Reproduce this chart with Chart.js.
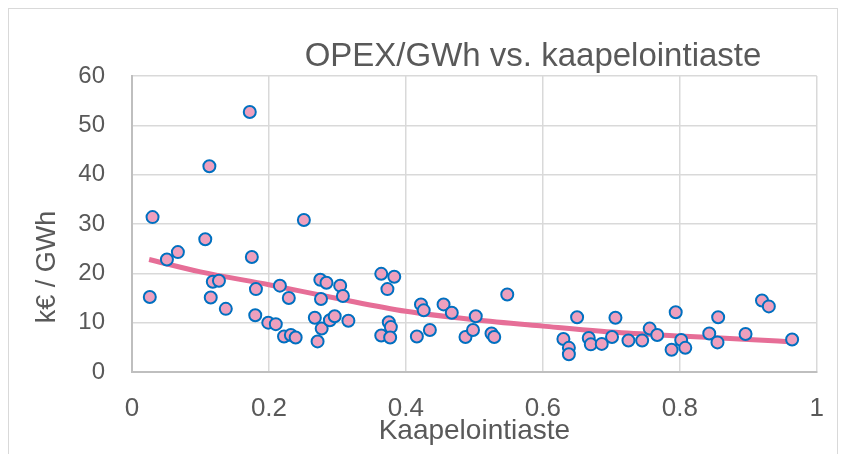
<!DOCTYPE html>
<html>
<head>
<meta charset="utf-8">
<script src="https://cdn.jsdelivr.net/npm/chart.js@4.4.0/dist/chart.umd.min.js"></script>
<style>
  html, body { margin: 0; padding: 0; background: #fff; }
</style>
</head>
<body>
<canvas id="myChart" width="845" height="454"></canvas>
<script>
// Data
const kaapelointiaste = [
  0.030, 0.026, 0.051, 0.067, 0.113, 0.107, 0.172, 0.118, 0.127, 0.115,
  0.137, 0.175, 0.181, 0.180, 0.199, 0.210, 0.216, 0.229, 0.222, 0.232,
  0.239, 0.251, 0.267, 0.271, 0.277, 0.275, 0.284, 0.276, 0.289, 0.296,
  0.304, 0.308, 0.316, 0.364, 0.383, 0.373, 0.375, 0.378, 0.364, 0.377,
  0.416, 0.422, 0.426, 0.435, 0.455, 0.467, 0.487, 0.498, 0.502, 0.525,
  0.529, 0.548, 0.630, 0.638, 0.638, 0.650, 0.667, 0.670, 0.686, 0.701,
  0.706, 0.725, 0.745, 0.756, 0.767, 0.794, 0.788, 0.802, 0.808, 0.843,
  0.856, 0.855, 0.896, 0.920, 0.930, 0.964
];
const opexPerGwh = [
  31.4, 15.2, 22.8, 24.3, 41.7, 26.9, 52.7, 18.3, 18.5, 15.1,
  12.8, 23.3, 16.8, 11.5, 10.0, 9.7, 17.5, 15.0, 7.2, 7.5,
  7.0, 30.8, 11.0, 6.2, 8.8, 18.7, 18.1, 14.8, 10.5, 11.3,
  17.5, 15.4, 10.4, 19.9, 19.3, 16.8, 10.1, 9.1, 7.4, 7.0,
  7.2, 13.7, 12.5, 8.5, 13.7, 12.0, 7.1, 8.5, 11.3, 7.8,
  7.1, 15.7, 6.7, 4.9, 3.6, 11.1, 6.9, 5.6, 5.7, 7.1,
  11.0, 6.4, 6.4, 8.8, 7.5, 12.1, 4.5, 6.5, 4.9, 7.8,
  11.1, 6.0, 7.7, 14.5, 13.3, 6.6
];

// Trend line
const trendX = [0.025, 0.1, 0.2, 0.3, 0.4, 0.5, 0.6, 0.7, 0.8, 0.9, 0.965];
const trendY = [22.8, 20.3, 17.7, 14.9, 12.3, 10.6, 9.3, 8.1, 7.3, 6.6, 6.1];

const xTicks = [0, 0.2, 0.4, 0.6, 0.8, 1];
const yTicks = [0, 10, 20, 30, 40, 50, 60];

const FONT = "'Liberation Sans', Arial, sans-serif";
const TEXT = '#595959';

// Frame, chart title and y axis title
const decorations = {
  id: 'decorations',
  beforeDraw(chart) {
    const ctx = chart.ctx;
    ctx.save();
    ctx.fillStyle = '#fff';
    ctx.fillRect(0, 0, chart.width, chart.height);
    ctx.strokeStyle = '#d9d9d9';
    ctx.lineWidth = 1;
    ctx.strokeRect(8.5, 8.5, 829, 500);
    ctx.restore();
  },
  afterDraw(chart) {
    const ctx = chart.ctx;
    ctx.save();
    ctx.fillStyle = TEXT;
    ctx.font = '33px ' + FONT;
    ctx.textAlign = 'center';
    ctx.textBaseline = 'alphabetic';
    ctx.fillText('OPEX/GWh vs. kaapelointiaste', 533, 66);

    ctx.font = '27px ' + FONT;
    ctx.translate(55, 267);
    ctx.rotate(-Math.PI / 2);
    ctx.fillText('k€ / GWh', 0, 0);
    ctx.restore();
  }
};

const points = kaapelointiaste.map((x, i) => ({ x: x, y: opexPerGwh[i] }));
const trend = trendX.map((x, i) => ({ x: x, y: trendY[i] }));

const ctx = document.getElementById('myChart').getContext('2d');
const myChart = new Chart(ctx, {
  type: 'scatter',
  data: {
    datasets: [{
      label: 'OPEX/GWh',
      data: points,
      backgroundColor: '#EEA0BE',
      borderColor: '#0070C0',
      borderWidth: 2,
      pointRadius: 6,
      order: 0
    }, {
      type: 'line',
      label: 'Trend',
      data: trend,
      borderColor: '#E66E97',
      borderWidth: 5,
      pointRadius: 0,
      fill: false,
      cubicInterpolationMode: 'monotone',
      borderCapStyle: 'butt',
      order: 1
    }]
  },
  plugins: [decorations],
  options: {
    responsive: false,
    animation: false,
    layout: { padding: { left: 0, right: 25, top: 76, bottom: 6 } },
    plugins: {
      legend: { display: false },
      tooltip: { enabled: false }
    },
    scales: {
      x: {
        type: 'linear',
        min: 0,
        max: 1,
        afterBuildTicks: axis => { axis.ticks = xTicks.map(v => ({ value: v })); },
        afterFit: axis => { axis.height = 76; },
        grid: { color: '#d9d9d9', lineWidth: 1.5, drawTicks: false },
        border: { color: '#bfbfbf', width: 2 },
        ticks: {
          color: TEXT,
          font: { family: FONT, size: 26 },
          padding: 21,
          maxRotation: 0,
          callback: v => String(v)
        },
        title: {
          display: true,
          text: 'Kaapelointiaste',
          color: TEXT,
          font: { family: FONT, size: 28 },
          padding: 0
        }
      },
      y: {
        min: 0,
        max: 60,
        afterBuildTicks: axis => { axis.ticks = yTicks.map(v => ({ value: v })); },
        afterFit: axis => { axis.width = 132; },
        grid: { color: '#d9d9d9', lineWidth: 1.5, drawTicks: false },
        border: { color: '#bfbfbf', width: 2 },
        ticks: {
          color: TEXT,
          font: { family: FONT, size: 24 },
          padding: 27
        }
      }
    }
  }
});
</script>
</body>
</html>
